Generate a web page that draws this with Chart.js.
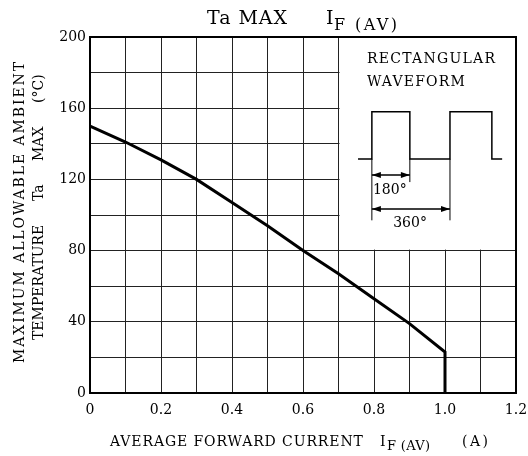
<!DOCTYPE html>
<html>
<head>
<meta charset="utf-8">
<style>
html,body{margin:0;padding:0;background:#fff;}
#c{display:block;}
</style>
<script src="https://cdn.jsdelivr.net/npm/chart.js@4/dist/chart.umd.min.js"></script>
</head>
<body>
<canvas id="c" width="528" height="456"></canvas>
<script>
// ---- data ----
const CURRENT_A = [0, 0.1, 0.2, 0.3, 0.4, 0.5, 0.6, 0.7, 0.8, 0.9, 1.0, 1.0];
const TA_MAX_C  = [150, 141, 131, 120, 107, 94, 80, 67, 53, 39, 23, 0];
const X_TICK_LABELS = {0: '0', 2: '0.2', 4: '0.4', 6: '0.6', 8: '0.8', 10: '1.0', 12: '1.2'};
const Y_TICK_LABELS = {0: '0', 40: '40', 80: '80', 120: '120', 160: '160', 200: '200'};

const SERIF = "'DejaVu Serif', 'Liberation Serif', serif";
Chart.defaults.font.family = SERIF;
Chart.defaults.color = '#000';

function drawSpaced(ctx, text, x, y, width, font) {
  ctx.save();
  ctx.font = font;
  ctx.textAlign = 'left';
  ctx.textBaseline = 'middle';
  ctx.letterSpacing = '0px';
  if (width) {
    const w0 = ctx.measureText(text).width;
    const n = text.length;
    const sp = n > 1 ? Math.max(0, (width - w0) / (n - 1)) : 0;
    ctx.letterSpacing = sp.toFixed(2) + 'px';
  }
  ctx.fillText(text, x, y);
  ctx.restore();
}

function arrowHead(ctx, x, y, dir) {
  ctx.beginPath();
  ctx.moveTo(x, y);
  ctx.lineTo(x - dir * 9, y - 3);
  ctx.lineTo(x - dir * 9, y + 3);
  ctx.closePath();
  ctx.fill();
}

const textPlugin = {
  id: 'decor',
  beforeDatasetsDraw(chart) {
    const {ctx, scales: {x, y}} = chart;
    ctx.save();
    ctx.fillStyle = '#fff';
    const l = x.getPixelForValue(0.7) + 1, r = x.getPixelForValue(1.2) - 1;
    const t = y.getPixelForValue(200) + 1, b = y.getPixelForValue(80) - 1;
    ctx.fillRect(l, t, r - l, b - t);
    ctx.restore();
  },
  afterDraw(chart) {
    const {ctx, chartArea: ca, scales: {x, y}} = chart;
    const X = v => x.getPixelForValue(v);
    const Y = v => y.getPixelForValue(v);
    ctx.save();
    ctx.strokeStyle = '#000';
    ctx.lineWidth = 2;
    ctx.strokeRect(ca.left, ca.top, ca.right - ca.left, ca.bottom - ca.top);

    // inset waveform
    ctx.lineWidth = 1.5;
    const hi = Y(158), lo = Y(131.5);
    ctx.beginPath();
    ctx.moveTo(X(0.755), lo);
    ctx.lineTo(X(0.794), lo); ctx.lineTo(X(0.794), hi);
    ctx.lineTo(X(0.901), hi); ctx.lineTo(X(0.901), lo);
    ctx.lineTo(X(1.014), lo); ctx.lineTo(X(1.014), hi);
    ctx.lineTo(X(1.132), hi); ctx.lineTo(X(1.132), lo);
    ctx.lineTo(X(1.161), lo);
    ctx.stroke();
    ctx.lineWidth = 1;
    ctx.beginPath();
    ctx.moveTo(X(0.794), lo); ctx.lineTo(X(0.794), Y(97));
    ctx.moveTo(X(0.901), lo); ctx.lineTo(X(0.901), Y(118.5));
    ctx.moveTo(X(1.014), lo); ctx.lineTo(X(1.014), Y(97));
    ctx.stroke();
    ctx.lineWidth = 1.5;
    const a1 = Y(122.5), a2 = Y(103.4);
    ctx.beginPath();
    ctx.moveTo(X(0.794), a1); ctx.lineTo(X(0.901), a1);
    ctx.moveTo(X(0.794), a2); ctx.lineTo(X(1.014), a2);
    ctx.stroke();
    ctx.fillStyle = '#000';
    arrowHead(ctx, X(0.794), a1, -1); arrowHead(ctx, X(0.901), a1, 1);
    arrowHead(ctx, X(0.794), a2, -1); arrowHead(ctx, X(1.014), a2, 1);

    drawSpaced(ctx, 'RECTANGULAR', X(0.780), Y(187.6), 128, '14px ' + SERIF);
    drawSpaced(ctx, 'WAVEFORM', X(0.780), Y(174.7), 98, '14px ' + SERIF);
    drawSpaced(ctx, '180°', X(0.797), Y(114), null, '14px ' + SERIF);
    drawSpaced(ctx, '360°', X(0.854), Y(95.5), null, '14px ' + SERIF);

    // title
    drawSpaced(ctx, 'Ta MAX', 207, 19, 80, '19px ' + SERIF);
    drawSpaced(ctx, 'I', 326, 19, null, '19px ' + SERIF);
    drawSpaced(ctx, 'F (AV)', 334, 26, 63, '16px ' + SERIF);

    // x-axis title
    drawSpaced(ctx, 'AVERAGE FORWARD CURRENT', 110, 442, 253, '14px ' + SERIF);
    drawSpaced(ctx, 'I', 380, 442, null, '14px ' + SERIF);
    drawSpaced(ctx, 'F (AV)', 387, 447, 43, '13px ' + SERIF);
    drawSpaced(ctx, '(A)', 462, 442, 26, '14px ' + SERIF);

    // y-axis title (rotated)
    ctx.save();
    ctx.translate(20, 0);
    ctx.rotate(-Math.PI / 2);
    drawSpaced(ctx, 'MAXIMUM ALLOWABLE AMBIENT', -363, 0, 301, '14px ' + SERIF);
    ctx.restore();
    ctx.save();
    ctx.translate(39, 0);
    ctx.rotate(-Math.PI / 2);
    drawSpaced(ctx, 'TEMPERATURE', -340, 0, 115, '14px ' + SERIF);
    drawSpaced(ctx, 'Ta', -201, 0, null, '14px ' + SERIF);
    drawSpaced(ctx, 'MAX', -161, 0, null, '14px ' + SERIF);
    drawSpaced(ctx, '(°C)', -103, 0, null, '14px ' + SERIF);
    ctx.restore();
    ctx.restore();
  }
};

new Chart(document.getElementById('c'), {
  type: 'line',
  data: {
    labels: CURRENT_A,
    datasets: [{
      data: CURRENT_A.map((v, i) => ({x: v, y: TA_MAX_C[i]})),
      borderColor: '#000',
      borderWidth: 3,
      pointRadius: 0,
      tension: 0,
      fill: false
    }]
  },
  options: {
    responsive: false,
    animation: false,
    devicePixelRatio: 1,
    layout: {padding: {top: 37, right: 12, left: 0, bottom: 0}},
    plugins: {legend: {display: false}, tooltip: {enabled: false}, title: {display: false}},
    scales: {
      x: {
        type: 'linear', min: 0, max: 1.2,
        afterFit(s) { s.height = 63; s.paddingRight = 0; s.paddingLeft = 0; },
        afterBuildTicks(s) {
          const t = [];
          for (let i = 0; i <= 12; i++) t.push({value: i / 10});
          s.ticks = t;
        },
        grid: {color: '#222', lineWidth: 1, drawTicks: false},
        border: {color: '#000', width: 2},
        ticks: {
          padding: 9, maxRotation: 0, autoSkip: false,
          font: {size: 14, family: SERIF},
          callback: (v) => { const k = Math.round(v * 10); return X_TICK_LABELS[k] !== undefined ? X_TICK_LABELS[k] : ''; }
        }
      },
      y: {
        type: 'linear', min: 0, max: 200,
        afterFit(s) { s.width = 90; s.paddingTop = 0; s.paddingBottom = 0; },
        grid: {color: '#222', lineWidth: 1, drawTicks: false},
        border: {color: '#000', width: 2},
        ticks: {
          stepSize: 20, padding: 4, autoSkip: false,
          font: {size: 14, family: SERIF},
          callback: (v) => Y_TICK_LABELS[v] !== undefined ? Y_TICK_LABELS[v] : ''
        }
      }
    }
  },
  plugins: [textPlugin]
});
</script>
</body>
</html>
